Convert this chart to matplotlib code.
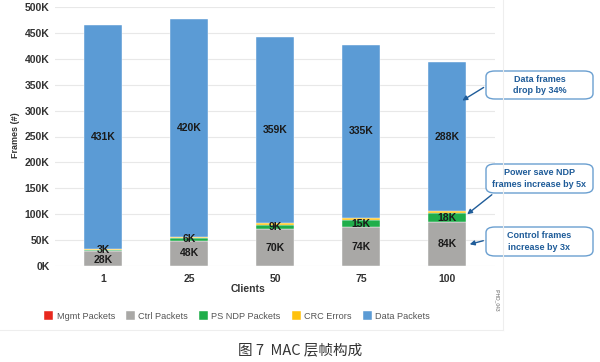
import matplotlib
matplotlib.use("Agg")
import matplotlib.pyplot as plt
from matplotlib.patches import FancyBboxPatch
import numpy as np

plt.rcParams['font.family'] = ['Liberation Sans', 'Noto Sans CJK SC', 'DejaVu Sans']

# данные (тысячи кадров)
clients = ['1', '25', '50', '75', '100']
mgmt = [0.5, 0.5, 0.5, 0.5, 0.5]
ctrl = [28, 48, 70, 74, 84]
ps_ndp = [3, 6, 9, 15, 18]
crc = [2, 2, 3, 3, 3]
data = [431, 420, 359, 335, 288]
series_names = ['Mgmt Packets', 'Ctrl Packets', 'PS NDP Packets', 'CRC Errors', 'Data Packets']
colors = ['#e8281e', '#a9a8a6', '#1fae4a', '#ffc20e', '#5b9bd5']
yticks = [0, 50, 100, 150, 200, 250, 300, 350, 400, 450, 500]
notes = ['Data frames\ndrop by 34%', 'Power save NDP\nframes increase by 5x', 'Control frames\nincrease by 3x']

fig = plt.figure(figsize=(6, 3.62), dpi=100)
ax = fig.add_axes([55/600, 1-266/362, 440/600, 259/362])

x = np.arange(len(clients))
w = 0.44
bottom = np.zeros(len(clients))
stack = [mgmt, ctrl, ps_ndp, crc, data]
for vals, c, name in zip(stack, colors, series_names):
    ax.bar(x, vals, w, bottom=bottom, color=c, label=name, edgecolor='white', linewidth=0.3, zorder=2)
    bottom += np.array(vals)

# подписи значений
lab_kw = dict(ha='center', va='center', fontsize=7.5, fontweight='bold', color='#1a1a1a', zorder=3)
b0 = np.array(mgmt)
for i in range(len(clients)):
    ax.text(x[i], b0[i] + ctrl[i] / 2 - (2 if i == 0 else 0), f'{ctrl[i]}K', **lab_kw)
    ax.text(x[i], b0[i] + ctrl[i] + ps_ndp[i] / 2 + (1 if i == 0 else 0), f'{ps_ndp[i]}K', **lab_kw)
    base = b0[i] + ctrl[i] + ps_ndp[i] + crc[i]
    ax.text(x[i], base + data[i] / 2, f'{data[i]}K', **lab_kw)

ax.set_xlim(-0.56, 4.56)
ax.set_ylim(0, 500)
ax.set_yticks(yticks)
ax.set_yticklabels([f'{v}K' for v in yticks])
ax.set_xticks(x)
ax.set_xticklabels(clients)
for lbl in ax.get_xticklabels() + ax.get_yticklabels():
    lbl.set_fontweight('bold')
    lbl.set_fontsize(7.5)
    lbl.set_color('#333333')
ax.tick_params(length=0, pad=4)
ax.tick_params(axis='x', pad=6)
ax.grid(axis='y', color='#e8e8e8', linewidth=0.8, zorder=0)
for s in ax.spines.values():
    s.set_visible(False)

fig.text(248/600, 1-289/362, 'Clients', ha='center', va='center', fontsize=7.5, fontweight='bold', color='#333333')
fig.text(15/600, 1-135/362, 'Frames (#)', ha='center', va='center', rotation=90, fontsize=6.5, fontweight='bold', color='#333333')

# легенда
handles, labels = ax.get_legend_handles_labels()
fig.legend(handles, labels, loc='center', bbox_to_anchor=(237/600, 1-316/362), ncol=5, frameon=False,
           fontsize=6.6, handlelength=1.0, handleheight=1.0, columnspacing=1.2, handletextpad=0.35,
           labelcolor='#555555')

# выноски
boxes = [(486, 71, 99), (486, 164, 193), (486, 227, 256)]
arrows = [((486, 86), (460, 102)), ((494, 193), (465, 216)), ((486, 240), (467, 245))]
for (bx, y0, y1), txt, (p0, p1) in zip(boxes, notes, arrows):
    patch = FancyBboxPatch((bx/600, 1-y1/362), 107/600, (y1-y0)/362, boxstyle='round,pad=0,rounding_size=0.015',
                           transform=fig.transFigure, facecolor='white', edgecolor='#6a9fd0', linewidth=1.0)
    fig.patches.append(patch)
    fig.text((bx + 53.5)/600, 1-(y0+y1)/2/362, txt, ha='center', va='center', fontsize=6.5,
             fontweight='bold', color='#1f5c99', linespacing=1.3)
    ax.annotate('', xy=(p1[0]/600, 1-p1[1]/362), xytext=(p0[0]/600, 1-p0[1]/362),
                xycoords='figure fraction', textcoords='figure fraction',
                arrowprops=dict(arrowstyle='-|>', color='#1f5c99', lw=1.0, mutation_scale=7))

fig.text(497/600, 1-300/362, 'IPHD_043', rotation=270, ha='center', va='center', fontsize=3.5, color='#666666')
fig.add_artist(plt.Line2D([503/600, 503/600], [1-330/362, 1.0], color='#eeeeee', lw=0.8, transform=fig.transFigure))
fig.add_artist(plt.Line2D([0, 503/600], [1-330/362, 1-330/362], color='#eeeeee', lw=0.8, transform=fig.transFigure))

fig.text(300/600, 1-350/362, '图 7  MAC 层帧构成', ha='center', va='center', fontsize=10.5, color='#333333',
         family=['Noto Sans CJK SC', 'DejaVu Sans'])

fig.savefig('out.png', dpi=100)
